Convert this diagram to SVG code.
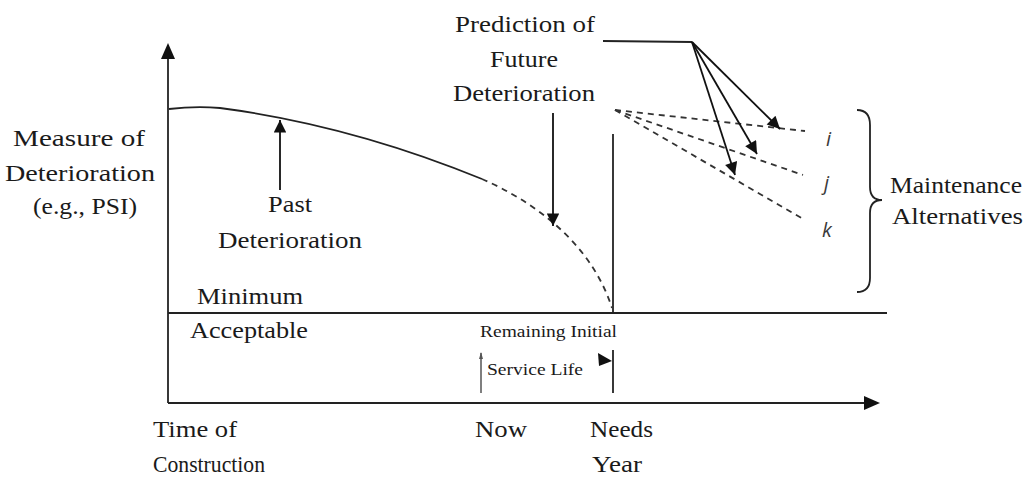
<svg xmlns="http://www.w3.org/2000/svg" width="1033" height="479" viewBox="0 0 1033 479">
<style>
  .t { font-family: "Liberation Serif", "Times New Roman", serif; font-size: 23px; fill: #1a1a1a; }
  .s { font-family: "Liberation Serif", "Times New Roman", serif; font-size: 16px; fill: #1a1a1a; }
  .it { font-family: "Open Sans", "Liberation Sans", sans-serif; font-style: italic; font-size: 20px; fill: #3a3a3a; }
  .ln { stroke: #222; stroke-width: 1.8; fill: none; }
  .dash { stroke: #333; stroke-width: 1.8; fill: none; stroke-dasharray: 6 5; }
  .ar { stroke: #111; stroke-width: 1.8; fill: none; }
</style>
<defs>
  <marker id="ah" viewBox="0 0 10 10" refX="10" refY="5" markerWidth="8" markerHeight="7" markerUnits="strokeWidth" orient="auto">
    <path d="M0,0 L10,5 L0,10 Z" fill="#111"/>
  </marker>
</defs>
<rect width="1033" height="479" fill="#fff"/>

<g id="axes">
  <line class="ln" x1="168" y1="403" x2="168" y2="56"/>
  <path d="M161,59 L168,43 L175,59 Z" fill="#111"/>
  <line class="ln" x1="168" y1="403" x2="866" y2="403"/>
  <path d="M864,396 L880,403 L864,410 Z" fill="#111"/>
  <line class="ln" x1="168" y1="313" x2="887" y2="313"/>
  <line class="ln" x1="613" y1="134" x2="613" y2="313"/>
</g>

<g id="curve">
  <path class="ln" d="M169,109 Q195,106 220,108 Q350,125 482,179"/>
  <path class="dash" d="M482,179 C530,200 590,240 612,308"/>
</g>

<g id="alternatives">
  <line class="dash" x1="615" y1="110" x2="805" y2="131"/>
  <line class="dash" x1="615" y1="110" x2="803" y2="175"/>
  <line class="dash" x1="615" y1="110" x2="805" y2="220"/>
  <text class="it" x="826" y="146">i</text>
  <text class="it" x="824" y="190">j</text>
  <text class="it" x="822" y="237">k</text>
</g>

<g id="connectors">
  <line class="ar" x1="280" y1="190" x2="280" y2="120" marker-end="url(#ah)"/>
  <line class="ar" x1="553" y1="113" x2="553" y2="226" marker-end="url(#ah)"/>
  <line class="ln" x1="603" y1="41" x2="692" y2="42"/>
  <line class="ar" x1="692" y1="42" x2="780" y2="129" marker-end="url(#ah)"/>
  <line class="ar" x1="692" y1="42" x2="757" y2="154" marker-end="url(#ah)"/>
  <line class="ar" x1="692" y1="42" x2="735" y2="175" marker-end="url(#ah)"/>
</g>

<g id="brace">
  <path class="ln" stroke-width="1.5" d="M857,110 Q870,110 870,125 L870,187 Q870,200 882,200 Q870,200 870,213 L870,278 Q870,292 857,292"/>
</g>

<g id="service-life">
  <line stroke="#555" stroke-width="1.5" x1="481" y1="353" x2="481" y2="393"/>
  <path d="M479,359 L481,352 L483,359 Z" fill="#555"/>
  <line class="ln" x1="613" y1="350" x2="613" y2="393"/>
  <path d="M598,353 L612,361 L599,366 Z" fill="#111"/>
  <text class="s" x="480" y="337" textLength="137" lengthAdjust="spacingAndGlyphs">Remaining Initial</text>
  <text class="s" x="487" y="375" textLength="96" lengthAdjust="spacingAndGlyphs">Service Life</text>
</g>

<g id="labels">
  <text class="t" x="13" y="146" textLength="132" lengthAdjust="spacingAndGlyphs">Measure of</text>
  <text class="t" x="5" y="181" textLength="150" lengthAdjust="spacingAndGlyphs">Deterioration</text>
  <text class="t" x="33" y="214" textLength="104" lengthAdjust="spacingAndGlyphs">(e.g., PSI)</text>

  <text class="t" x="268" y="212" textLength="44" lengthAdjust="spacingAndGlyphs">Past</text>
  <text class="t" x="218" y="248" textLength="144" lengthAdjust="spacingAndGlyphs">Deterioration</text>

  <text class="t" x="197" y="304" textLength="106" lengthAdjust="spacingAndGlyphs">Minimum</text>
  <text class="t" x="190" y="338" textLength="118" lengthAdjust="spacingAndGlyphs">Acceptable</text>

  <text class="t" x="455" y="32" textLength="140" lengthAdjust="spacingAndGlyphs">Prediction of</text>
  <text class="t" x="490" y="67" textLength="68" lengthAdjust="spacingAndGlyphs">Future</text>
  <text class="t" x="453" y="101" textLength="142" lengthAdjust="spacingAndGlyphs">Deterioration</text>

  <text class="t" x="890" y="193" textLength="132" lengthAdjust="spacingAndGlyphs">Maintenance</text>
  <text class="t" x="892" y="224" textLength="131" lengthAdjust="spacingAndGlyphs">Alternatives</text>

  <text class="t" x="153" y="437" textLength="84" lengthAdjust="spacingAndGlyphs">Time of</text>
  <text class="t" x="153" y="472" textLength="112" lengthAdjust="spacingAndGlyphs">Construction</text>
  <text class="t" x="475" y="437" textLength="52" lengthAdjust="spacingAndGlyphs">Now</text>
  <text class="t" x="590" y="437" textLength="63" lengthAdjust="spacingAndGlyphs">Needs</text>
  <text class="t" x="592" y="472" textLength="50" lengthAdjust="spacingAndGlyphs">Year</text>
</g>
</svg>
